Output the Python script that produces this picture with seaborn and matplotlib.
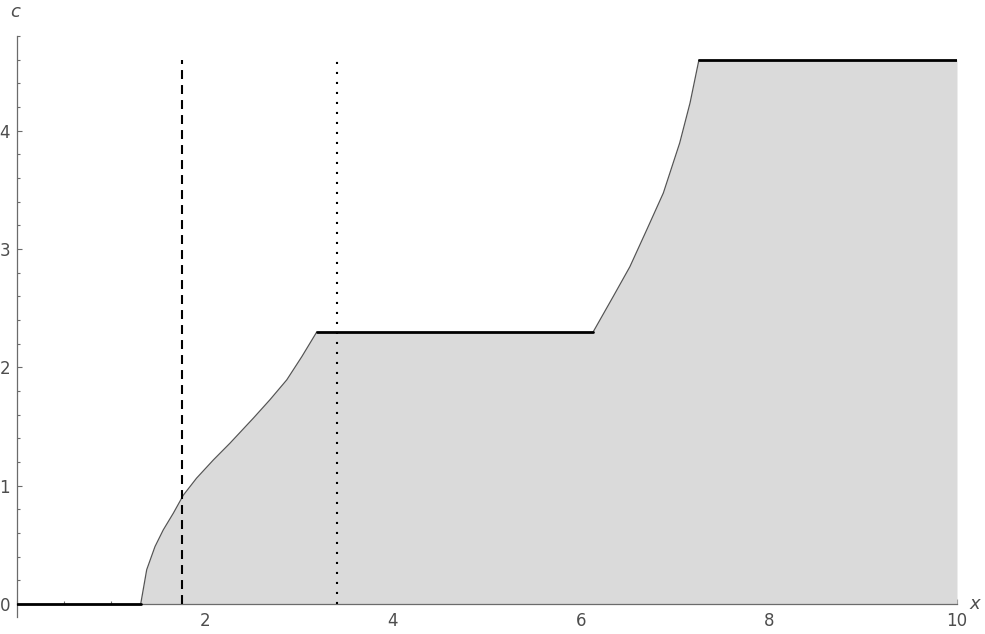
import numpy as np
import pandas as pd
import seaborn as sb
import matplotlib.pyplot as plt
from matplotlib.ticker import MultipleLocator

#### values
x_rise1 = [1.316, 1.38, 1.468, 1.556, 1.663, 1.77, 1.91, 2.09, 2.266, 2.514, 2.69, 2.87, 3.03, 3.19]
c_rise1 = [0.00, 0.29, 0.485, 0.626, 0.767, 0.92, 1.063, 1.218, 1.359, 1.57, 1.725, 1.894, 2.09, 2.30]

x_rise2 = [6.13, 6.344, 6.52, 6.70, 6.876, 7.05, 7.16, 7.255]
c_rise2 = [2.30, 2.60, 2.85, 3.163, 3.473, 3.896, 4.234, 4.60]

# flat pieces (x start, x end, level)
plateau_x0 = [0.0, 3.19, 7.255]
plateau_x1 = [1.316, 6.13, 10.0]
plateau_c = [0.0, 2.30, 4.60]

x_dashed = 1.755
x_dotted = 3.404
c_top = 4.6

xticks = [2, 4, 6, 8, 10]
yticks = [0, 1, 2, 3, 4]
##################

sb.set_style("white")

edge = pd.DataFrame({
    "x": [0.0] + x_rise1 + x_rise2 + [10.0],
    "c": [0.0] + c_rise1 + c_rise2 + [4.6],
})

fig = plt.figure(figsize=(9.85, 6.34), dpi=100)
ax = fig.add_axes([17 / 985, 17 / 634, 940 / 985, 581 / 634])

# shaded region under the boundary
ax.fill_between(edge["x"], 0, edge["c"], color="#dadada", linewidth=0, zorder=1)

# rising parts of the boundary: thin dark line
sb.lineplot(x=x_rise1, y=c_rise1, ax=ax, color="#555555", linewidth=0.9, zorder=3, sort=False)
sb.lineplot(x=x_rise2, y=c_rise2, ax=ax, color="#555555", linewidth=0.9, zorder=3, sort=False)

# flat parts: thick black
for x0, x1, cv in zip(plateau_x0, plateau_x1, plateau_c):
    sb.lineplot(x=[x0, x1], y=[cv, cv], ax=ax, color="black", linewidth=2.0, zorder=4)

ax.plot([x_dashed, x_dashed], [0, c_top], color="black", linewidth=1.5,
        linestyle=(0, (4.3, 2.9)), zorder=5)
ax.plot([x_dotted, x_dotted], [0, c_top], color="black", linewidth=1.5,
        linestyle=(0, (1, 3.8)), zorder=5)

ax.set_xlim(0, 10)
ax.set_ylim(-0.11, 4.8)

for s in ["top", "right"]:
    ax.spines[s].set_visible(False)
ax.spines["bottom"].set_position(("data", 0))
ax.spines["left"].set_position(("data", 0))
for s in ["bottom", "left"]:
    ax.spines[s].set_color("#6b6b6b")
    ax.spines[s].set_linewidth(0.9)
    ax.spines[s].set_zorder(2)

ax.set_xticks(xticks)
ax.set_yticks(yticks)
ax.xaxis.set_minor_locator(MultipleLocator(0.5))
ax.yaxis.set_minor_locator(MultipleLocator(0.2))
ax.tick_params(which="both", direction="in", color="#6b6b6b", width=0.8,
               labelcolor="#4d4d4d", labelsize=12, bottom=True, left=True)
ax.tick_params(which="major", length=3.5)
ax.tick_params(which="minor", length=2.2)
ax.tick_params(axis="x", which="major", pad=6)
ax.tick_params(axis="y", which="major", pad=5)

ax.set_xlabel("")
ax.set_ylabel("")
ax.text(10.19, 0.0, "x", fontsize=13, style="italic", color="#4d4d4d",
        ha="center", va="center", clip_on=False)
ax.text(-0.02, 5.0, "c", fontsize=13, style="italic", color="#4d4d4d",
        ha="center", va="center", clip_on=False)

fig.savefig("out.png", dpi=100)
